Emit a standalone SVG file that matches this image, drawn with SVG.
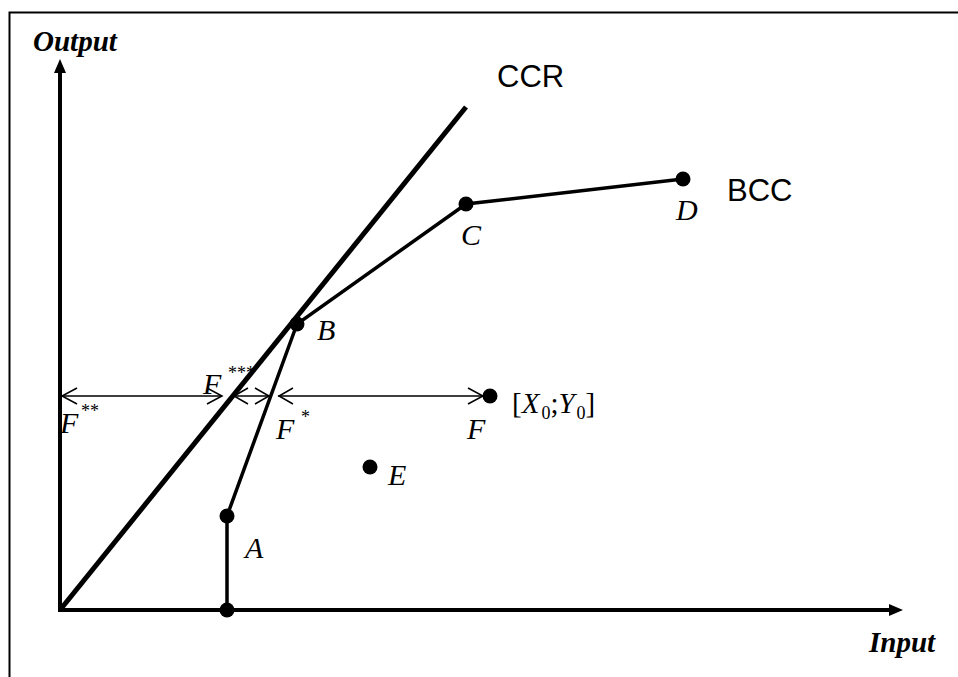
<svg xmlns="http://www.w3.org/2000/svg" width="958" height="677" viewBox="0 0 958 677">
<style>
.ax{stroke:#000;stroke-width:4;fill:none}
.ccr{stroke:#000;stroke-width:5;fill:none;stroke-linecap:butt}
.bcc{stroke:#000;stroke-width:3.5;fill:none}
.hl{stroke:#000;stroke-width:1.5;fill:none}
.ah{stroke:#000;stroke-width:1.5;fill:none}
.dot{fill:#000}
.lab{font-family:"Liberation Serif","Times New Roman",serif;font-style:italic;font-size:30px;fill:#000}
.axl{font-family:"Liberation Serif","Times New Roman",serif;font-style:italic;font-weight:bold;font-size:29px;fill:#000}
.sans{font-family:"Liberation Sans",Arial,sans-serif;font-size:31px;fill:#000}
.sup{font-family:"Liberation Serif","Times New Roman",serif;font-size:18px;fill:#000}
.rom{font-family:"Liberation Serif","Times New Roman",serif;font-size:29px;fill:#000}
</style>
<rect width="958" height="677" fill="#fff"/>
<g id="frame">
<path d="M9.5,677 V12.5 H958" stroke="#000" stroke-width="2" fill="none"/>
</g>
<g id="axes">
<path class="ax" d="M60,610 V72"/>
<polygon points="60,59 54,73 66,73" class="dot"/>
<path class="ax" d="M58,610 H890"/>
<polygon points="903,610 889,604 889,616" class="dot"/>
<text class="axl" x="33" y="51">Output</text>
<text class="axl" x="869" y="652">Input</text>
</g>
<g id="connectors">
<path class="ccr" d="M60,610 L466,107"/>
<path class="bcc" d="M227,610 V516 L297,324 L466,204 L683,179"/>
<path class="hl" d="M61,396 H222 M233,396 H270 M278,396 H484"/>
<g class="ah">
<path d="M77,388 L62,396 L77,404"/>
<path d="M207,388 L222,396 L207,404"/>
<path d="M248,388 L234,396 L248,404"/>
<path d="M255,388 L269,396 L255,404"/>
<path d="M293,388 L279,396 L293,404"/>
<path d="M468,388 L483,396 L468,404"/>
</g>
</g>
<g id="node-A0"><circle class="dot" cx="227" cy="610" r="7.5"/></g>
<g id="node-A"><circle class="dot" cx="227" cy="516" r="7.5"/><text class="lab" x="245" y="558">A</text></g>
<g id="node-B"><circle class="dot" cx="297" cy="324" r="7.5"/><text class="lab" x="317" y="340">B</text></g>
<g id="node-C"><circle class="dot" cx="466" cy="204" r="7.5"/><text class="lab" x="461" y="245">C</text></g>
<g id="node-D"><circle class="dot" cx="683" cy="179" r="7.5"/><text class="lab" x="676" y="220">D</text></g>
<g id="node-E"><circle class="dot" cx="370" cy="467" r="7.5"/><text class="lab" x="388" y="485">E</text></g>
<g id="node-F"><circle class="dot" cx="490" cy="396" r="7.5"/><text class="lab" x="467" y="439">F</text>
<text class="rom" x="512" y="413">[<tspan font-style="italic">X</tspan><tspan font-size="18" dx="2" dy="6">0</tspan><tspan dy="-6">;</tspan><tspan font-style="italic">Y</tspan><tspan font-size="18" dx="2" dy="6">0</tspan><tspan dy="-6">]</tspan></text>
</g>
<g id="labels">
<text class="sans" x="497" y="87">CCR</text>
<text class="sans" x="727" y="201">BCC</text>
<text class="lab" x="60" y="433">F</text><text class="sup" x="81" y="417">**</text>
<text class="lab" x="203" y="394">F</text><text class="sup" x="228" y="379" fill="#888">***</text>
<text class="lab" x="276" y="439">F</text><text class="sup" x="301" y="423">*</text>
</g>
</svg>
